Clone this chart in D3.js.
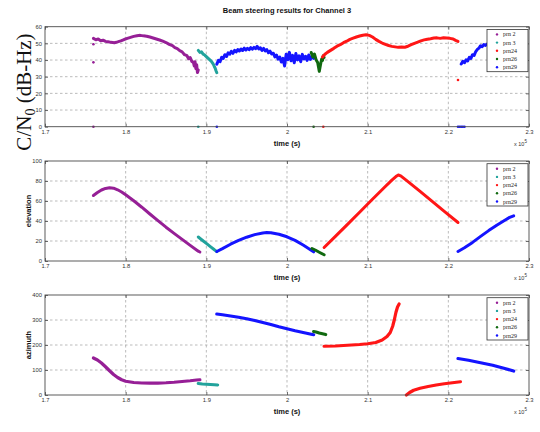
<!DOCTYPE html>
<html>
<head>
<meta charset="utf-8">
<script src="https://cdn.jsdelivr.net/npm/d3@7"></script>
<style>
  html, body { margin: 0; padding: 0; background: #fff; }
  svg { display: block; }
</style>
</head>
<body>
<svg id="chart" width="540" height="432"></svg>
<script>
// ---- data: time in units of 1e5 s ----
const xTickValues = [1.7, 1.8, 1.9, 2.0, 2.1, 2.2, 2.3];
const xTickLabels = ["1.7", "1.8", "1.9", "2", "2.1", "2.2", "2.3"];
const prnNames = ["prn 2", "prn 3", "prn24", "prn26", "prn29"];
const prnColors = ["#961f96", "#22a39c", "#ff1616", "#10690f", "#1414ff"];

const cn0Ticks = [0, 10, 20, 30, 40, 50, 60];
const elevTicks = [0, 20, 40, 60, 80, 100];
const aziTicks = [0, 100, 200, 300, 400];

// C/N0 (dB-Hz)
const cn0Prn2 = [[1.760,53.0],[1.763,52.2],[1.766,52.6],[1.769,51.6],[1.772,51.9],[1.775,51.2],[1.778,51.0],[1.782,50.6],[1.786,50.4],[1.790,50.9],[1.794,51.5],[1.798,52.3],[1.802,53.0],[1.806,53.6],[1.810,54.2],[1.814,54.6],[1.818,54.8],[1.822,54.5],[1.826,54.3],[1.830,53.8],[1.834,53.2],[1.838,52.6],[1.842,52.0],[1.846,51.3],[1.850,50.5],[1.854,49.4],[1.858,48.6],[1.861,47.4],[1.864,46.8],[1.867,45.6],[1.870,44.9],[1.873,43.2],[1.876,42.6],[1.878,40.8],[1.880,41.5],[1.882,39.2],[1.884,38.6],[1.885,36.4],[1.886,39.0],[1.887,34.8],[1.888,37.2],[1.889,32.5],[1.890,34.0]];
const cn0Prn3 = [[1.890,45.8],[1.892,44.6],[1.894,44.9],[1.896,43.5],[1.898,43.0],[1.900,42.1],[1.902,41.2],[1.904,40.3],[1.906,39.4],[1.908,38.0],[1.909,37.2],[1.910,36.0],[1.911,35.1],[1.912,33.6],[1.913,32.4]];
const cn0Prn29a = [[1.913,37.5],[1.915,39.8],[1.917,39.0],[1.919,41.6],[1.921,41.0],[1.923,43.2],[1.925,42.1],[1.927,44.3],[1.929,43.5],[1.931,45.2],[1.933,44.0],[1.935,45.8],[1.937,44.9],[1.939,46.3],[1.941,45.4],[1.943,46.6],[1.945,45.7],[1.947,47.1],[1.949,46.0],[1.951,47.0],[1.953,46.2],[1.955,47.4],[1.957,46.5],[1.959,47.6],[1.961,46.8],[1.963,48.2],[1.965,46.7],[1.967,47.3],[1.969,45.8],[1.971,47.0],[1.973,45.5],[1.975,46.2],[1.977,44.4],[1.979,45.3],[1.981,43.6],[1.983,44.1],[1.985,41.9],[1.987,43.0],[1.989,40.5],[1.991,41.8],[1.993,38.8],[1.995,41.0],[1.997,36.4],[1.999,43.5],[2.001,40.2],[2.003,44.6],[2.005,39.6],[2.007,42.8],[2.009,38.4],[2.011,43.9],[2.013,40.1],[2.015,42.5],[2.017,39.0],[2.019,43.4],[2.021,40.6],[2.023,42.2],[2.025,39.8],[2.027,43.0],[2.029,40.4],[2.031,42.1],[2.033,41.0]];
const cn0Prn26 = [[2.030,44.5],[2.032,41.8],[2.034,43.6],[2.036,40.2],[2.038,38.5],[2.039,36.0],[2.040,33.2],[2.041,35.8],[2.042,38.4],[2.043,40.6],[2.044,39.8],[2.045,42.5],[2.046,41.6]];
const cn0Prn24 = [[2.044,41.8],[2.047,43.5],[2.050,44.6],[2.054,45.8],[2.058,47.0],[2.062,48.3],[2.066,49.2],[2.070,50.4],[2.074,51.3],[2.078,52.4],[2.082,53.1],[2.086,53.8],[2.090,54.4],[2.094,54.9],[2.098,55.2],[2.102,54.8],[2.106,53.8],[2.110,52.4],[2.114,51.2],[2.118,50.2],[2.122,49.4],[2.126,48.7],[2.130,48.2],[2.134,47.9],[2.138,47.6],[2.142,47.8],[2.146,47.7],[2.150,48.3],[2.154,49.2],[2.158,50.0],[2.162,50.7],[2.166,51.5],[2.170,52.1],[2.174,52.5],[2.178,52.8],[2.182,53.2],[2.186,53.3],[2.190,53.0],[2.194,53.4],[2.198,53.2],[2.202,53.0],[2.206,52.6],[2.209,51.8],[2.212,51.2]];
const cn0Prn29b = [[2.216,37.6],[2.218,39.2],[2.220,38.4],[2.222,40.1],[2.224,39.5],[2.226,41.6],[2.228,41.0],[2.230,43.2],[2.232,42.8],[2.234,45.1],[2.236,46.4],[2.238,47.2],[2.240,48.6],[2.242,48.0],[2.244,49.3],[2.246,48.8],[2.248,49.6],[2.252,49.1],[2.256,49.8],[2.260,49.4],[2.265,50.0],[2.270,49.6],[2.275,50.2],[2.280,49.8]];
// isolated samples (prn index, time, C/N0)
const cn0Stray = [[0,1.760,49.5],[0,1.760,38.6],[0,1.760,0],[1,1.890,0],[4,1.913,0],[3,2.033,0],[2,2.045,0],[2,2.212,28],[4,2.212,0],[4,2.214,0],[4,2.216,0],[4,2.218,0],[4,2.220,0]];

// elevation (deg)
const elevPrn2 = [[1.760,65.5],[1.765,68.5],[1.770,71.0],[1.775,72.6],[1.780,73.2],[1.785,72.8],[1.790,71.2],[1.795,69.0],[1.800,66.2],[1.810,60.2],[1.820,53.8],[1.830,47.0],[1.840,40.4],[1.850,33.8],[1.860,27.6],[1.870,21.6],[1.880,15.6],[1.890,9.8],[1.892,9.0]];
const elevPrn3 = [[1.890,24.0],[1.895,20.8],[1.900,17.6],[1.905,14.4],[1.910,11.2],[1.913,9.4]];
const elevPrn29a = [[1.913,9.5],[1.920,12.4],[1.930,16.8],[1.940,20.6],[1.950,23.8],[1.960,26.4],[1.970,28.0],[1.975,28.4],[1.980,28.2],[1.990,26.8],[2.000,24.2],[2.010,20.6],[2.020,16.0],[2.030,10.8],[2.033,9.2]];
const elevPrn26 = [[2.031,12.5],[2.035,11.0],[2.040,8.8],[2.046,6.2]];
const elevPrn24 = [[2.046,13.5],[2.060,24.6],[2.075,36.6],[2.090,48.8],[2.105,61.0],[2.120,73.0],[2.130,80.8],[2.135,84.4],[2.138,86.0],[2.141,85.2],[2.150,79.4],[2.165,69.6],[2.180,59.6],[2.195,49.6],[2.212,38.5]];
const elevPrn29b = [[2.212,9.5],[2.220,13.2],[2.230,18.6],[2.240,24.6],[2.250,30.4],[2.260,35.8],[2.270,40.8],[2.276,43.6],[2.281,45.2]];

// azimuth (deg)
const aziPrn2 = [[1.760,148],[1.765,140],[1.770,128],[1.775,113],[1.780,97],[1.785,82],[1.790,70],[1.795,61],[1.800,55],[1.810,50],[1.820,48],[1.830,47.5],[1.840,47.8],[1.850,49],[1.860,51],[1.870,54],[1.880,57],[1.888,60],[1.892,61]];
const aziPrn3 = [[1.890,46],[1.895,44],[1.900,43],[1.905,42],[1.910,41],[1.914,40]];
const aziPrn29a = [[1.913,324],[1.920,321],[1.930,316],[1.940,311],[1.950,305],[1.960,298],[1.970,290],[1.980,282],[1.990,273],[2.000,265],[2.010,257],[2.020,250],[2.030,243],[2.033,241]];
const aziPrn26 = [[2.033,254],[2.036,252],[2.040,248],[2.044,245],[2.048,242]];
const aziPrn24a = [[2.046,195],[2.060,196],[2.070,198],[2.080,200],[2.090,202],[2.100,205],[2.110,210],[2.118,220],[2.124,234],[2.128,250],[2.131,275],[2.133,300],[2.135,330],[2.137,352],[2.139,364]];
const aziPrn24b = [[2.148,0],[2.152,10],[2.157,19],[2.165,27],[2.175,34],[2.185,40],[2.195,45],[2.205,49],[2.215,53]];
const aziPrn29b = [[2.212,146],[2.225,139],[2.240,129],[2.255,119],[2.270,106],[2.281,96]];

// ---- layout ----
const svg = d3.select("#chart");
const left = 45, right = 529;
const x = d3.scaleLinear().domain([1.7, 2.3]).range([left, right]);
const FONT = "'Liberation Sans', Arial, sans-serif";

const panels = [
  { top: 26.7, bottom: 126.7, domain: [0, 60], ticks: cn0Ticks, label: null,
    series: [[0, cn0Prn2], [1, cn0Prn3], [4, cn0Prn29a], [3, cn0Prn26], [2, cn0Prn24], [4, cn0Prn29b]],
    stray: cn0Stray, width: 3 },
  { top: 161, bottom: 261, domain: [0, 100], ticks: elevTicks, label: "elevation",
    series: [[0, elevPrn2], [1, elevPrn3], [4, elevPrn29a], [3, elevPrn26], [2, elevPrn24], [4, elevPrn29b]],
    stray: [], width: 3 },
  { top: 295, bottom: 395, domain: [0, 400], ticks: aziTicks, label: "azimuth",
    series: [[0, aziPrn2], [1, aziPrn3], [4, aziPrn29a], [3, aziPrn26], [2, aziPrn24a], [2, aziPrn24b], [4, aziPrn29b]],
    stray: [], width: 3.2 }
];

// title
svg.append("text")
  .attr("x", 287).attr("y", 13)
  .attr("text-anchor", "middle")
  .attr("font-family", FONT).attr("font-weight", "bold").attr("font-size", 7.5)
  .attr("fill", "#111")
  .text("Beam steering results for Channel 3");

panels.forEach(p => {
  const y = d3.scaleLinear().domain(p.domain).range([p.bottom, p.top]);
  const g = svg.append("g");

  // grid
  g.selectAll(".gx").data(xTickValues.slice(1, -1)).join("line")
    .attr("x1", d => x(d)).attr("x2", d => x(d))
    .attr("y1", p.top).attr("y2", p.bottom)
    .attr("stroke", "#aaa").attr("stroke-width", 0.8).attr("stroke-dasharray", "2.5,2.5");
  g.selectAll(".gy").data(p.ticks.slice(1, -1)).join("line")
    .attr("x1", left).attr("x2", right)
    .attr("y1", d => y(d)).attr("y2", d => y(d))
    .attr("stroke", "#aaa").attr("stroke-width", 0.8).attr("stroke-dasharray", "2.5,2.5");

  // series
  const line = d3.line().x(d => x(d[0])).y(d => y(d[1]));
  p.series.forEach(([k, data]) => {
    g.append("path").datum(data)
      .attr("d", line)
      .attr("fill", "none")
      .attr("stroke", prnColors[k])
      .attr("stroke-width", p.width)
      .attr("stroke-linejoin", "round").attr("stroke-linecap", "round");
  });
  g.selectAll(".stray").data(p.stray).join("circle")
    .attr("cx", d => x(d[1])).attr("cy", d => y(d[2]))
    .attr("r", 1.3).attr("fill", d => prnColors[d[0]]);

  // axes box
  g.append("rect")
    .attr("x", left).attr("y", p.top)
    .attr("width", right - left).attr("height", p.bottom - p.top)
    .attr("fill", "none").attr("stroke", "#4a4a4a").attr("stroke-width", 0.9);

  const xAxisB = d3.axisBottom(x).tickValues(xTickValues)
    .tickFormat((d, i) => xTickLabels[i]).tickSizeInner(-3).tickSizeOuter(0).tickPadding(3);
  const ax = g.append("g").attr("transform", `translate(0,${p.bottom})`).call(xAxisB);
  const xAxisT = d3.axisTop(x).tickValues(xTickValues).tickFormat("").tickSizeInner(-3).tickSizeOuter(0);
  const axT = g.append("g").attr("transform", `translate(0,${p.top})`).call(xAxisT);
  const yAxisL = d3.axisLeft(y).tickValues(p.ticks).tickSizeInner(-3).tickSizeOuter(0).tickPadding(3);
  const ay = g.append("g").attr("transform", `translate(${left},0)`).call(yAxisL);
  const yAxisR = d3.axisRight(y).tickValues(p.ticks).tickFormat("").tickSizeInner(-3).tickSizeOuter(0);
  const ayR = g.append("g").attr("transform", `translate(${right},0)`).call(yAxisR);
  [ax, axT, ay, ayR].forEach(a => {
    a.select(".domain").remove();
    a.selectAll("line").attr("stroke", "#4a4a4a").attr("stroke-width", 0.8);
    a.selectAll("text").attr("font-family", FONT).attr("font-size", 5.8).attr("fill", "#333");
  });

  // axis labels
  svg.append("text")
    .attr("x", 287).attr("y", p.bottom + 19)
    .attr("text-anchor", "middle")
    .attr("font-family", FONT).attr("font-weight", "bold").attr("font-size", 7.5)
    .attr("fill", "#111").text("time (s)");
  const mult = svg.append("text")
    .attr("x", 514).attr("y", p.bottom + 19)
    .attr("font-family", FONT).attr("font-size", 5.5).attr("fill", "#333");
  mult.append("tspan").text("x 10");
  mult.append("tspan").attr("dy", -3).attr("font-size", 4.5).text("5");
  if (p.label) {
    svg.append("text")
      .attr("transform", `translate(31,${(p.top + p.bottom) / 2}) rotate(-90)`)
      .attr("text-anchor", "middle")
      .attr("font-family", FONT).attr("font-weight", "bold").attr("font-size", 7.5)
      .attr("fill", "#111").text(p.label);
  }

  // legend
  const lx = 487, ly = p.top + 2.7, lw = 41, lh = 42.3;
  const lg = svg.append("g");
  lg.append("rect").attr("x", lx).attr("y", ly).attr("width", lw).attr("height", lh)
    .attr("fill", "#fff").attr("stroke", "#333").attr("stroke-width", 0.8);
  prnNames.forEach((name, i) => {
    const ry = ly + 5 + i * 8.2;
    lg.append("circle").attr("cx", lx + 10).attr("cy", ry).attr("r", 1.2).attr("fill", prnColors[i]);
    lg.append("text").attr("x", lx + 16).attr("y", ry + 2)
      .attr("font-family", "'Liberation Serif', 'Times New Roman', serif").attr("font-size", 6)
      .attr("fill", "#222").text(name);
  });
});

// large y label for the C/N0 panel
const big = svg.append("text")
  .attr("transform", "translate(31,92) rotate(-90)")
  .attr("text-anchor", "middle")
  .attr("font-family", "'Liberation Serif', 'Times New Roman', serif")
  .attr("font-size", 21).attr("fill", "#111");
big.append("tspan").text("C/N");
big.append("tspan").attr("font-size", 14).attr("dy", 4).text("0");
big.append("tspan").attr("dy", -4).text(" (dB-Hz)");
</script>
</body>
</html>
